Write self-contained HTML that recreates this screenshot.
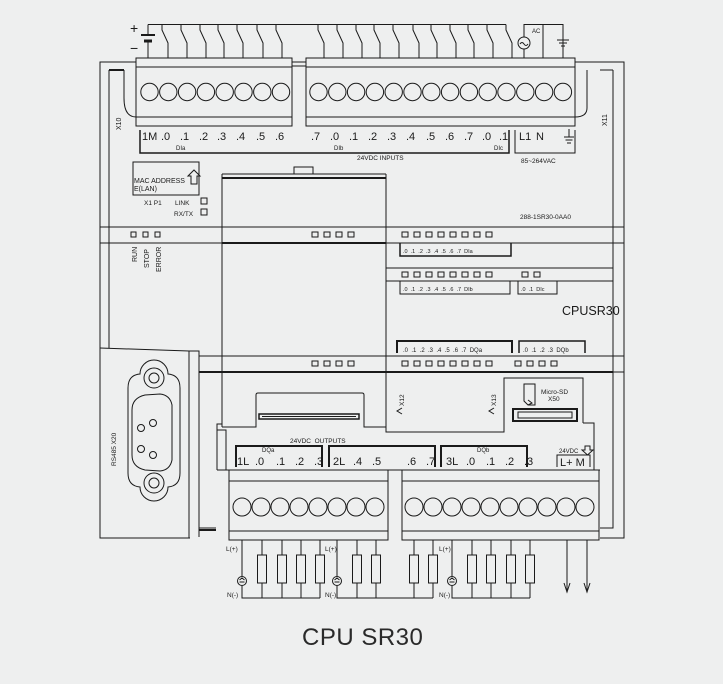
<!DOCTYPE html>
<html><head><meta charset="utf-8"><style>
html,body{margin:0;padding:0;background:#eeefef;}
svg{display:block}
text{font-family:"Liberation Sans",Arial,sans-serif;fill:#1a1a1a}
</style></head><body>
<svg width="723" height="684" viewBox="0 0 723 684" xmlns="http://www.w3.org/2000/svg">
<g fill="none" stroke="#1a1a1a" stroke-width="1">
<line x1="148" y1="24.5" x2="506" y2="24.5"/>
<line x1="148" y1="24.5" x2="148" y2="35"/>
<line x1="141" y1="35" x2="155" y2="35" stroke-width="2"/>
<line x1="144" y1="41" x2="152" y2="41" stroke-width="3"/>
<line x1="148" y1="41" x2="148" y2="58"/>
<path d="M162 24.5V30L168 43V58 M181 24.5V30L187 43V58 M200 24.5V30L206 43V58 M218 24.5V30L224 43V58 M237 24.5V30L243 43V58 M257 24.5V30L263 43V58 M276 24.5V30L282 43V58
M318 24.5V30L324 43V58 M337 24.5V30L343 43V58 M356 24.5V30L362 43V58 M374 24.5V30L380 43V58 M393 24.5V30L399 43V58 M413 24.5V30L419 43V58 M431 24.5V30L437 43V58 M450 24.5V30L456 43V58 M468 24.5V30L474 43V58 M487 24.5V30L493 43V58 M506 24.5V30L512 43V58"/>
<path d="M524 58V49 M524 37V24.5H543V58 M543 24.5H563V58"/>
<circle cx="524" cy="43" r="6"/>
<path d="M520 44q2-3 4 0t4 0"/>
<path d="M557 40H569 M559 43H567 M561 46H565"/>
<path d="M136 62H100V538H190"/>
<path d="M575 62H624V538H600"/>
<path d="M109 70V227 M109 243V348"/>
<path d="M109 70H124" stroke-width="2"/>
<path d="M613 70H600 M613 70V227 M613 243V356 M613 372V528H600" />
<path d="M100 227H109V243H100"/>
<path d="M624 227H613V243H624"/>
<path d="M624 356H613V372H624"/>
<path d="M124 70V98Q124 117 136 117" />
<path d="M587 70V108Q587 117 575 117"/>
<rect x="136" y="58" width="156" height="68"/>
<line x1="136" y1="67" x2="292" y2="67"/>
<line x1="136" y1="117" x2="292" y2="117"/>
<rect x="306" y="58" width="269" height="68"/>
<line x1="306" y1="67" x2="575" y2="67"/>
<line x1="306" y1="117" x2="575" y2="117"/>
<line x1="292" y1="62" x2="306" y2="62"/>
<line x1="292" y1="66" x2="306" y2="66"/>
<g>
<circle cx="149.5" cy="92" r="8.7"/><circle cx="168.3" cy="92" r="8.7"/><circle cx="187.1" cy="92" r="8.7"/><circle cx="205.9" cy="92" r="8.7"/><circle cx="224.7" cy="92" r="8.7"/><circle cx="243.5" cy="92" r="8.7"/><circle cx="262.3" cy="92" r="8.7"/><circle cx="281" cy="92" r="8.7"/>
<circle cx="318.5" cy="92" r="8.7"/><circle cx="337.3" cy="92" r="8.7"/><circle cx="356.1" cy="92" r="8.7"/><circle cx="374.9" cy="92" r="8.7"/><circle cx="393.7" cy="92" r="8.7"/><circle cx="412.5" cy="92" r="8.7"/><circle cx="431.3" cy="92" r="8.7"/><circle cx="450.1" cy="92" r="8.7"/><circle cx="468.9" cy="92" r="8.7"/><circle cx="487.7" cy="92" r="8.7"/><circle cx="506.5" cy="92" r="8.7"/><circle cx="525.3" cy="92" r="8.7"/><circle cx="544.1" cy="92" r="8.7"/><circle cx="562.9" cy="92" r="8.7"/>
</g>
<path d="M140 130V153H509V130" stroke-width="1.5"/>
<path d="M515 130V153H575V130"/>
<path d="M569 129V137 M564 137H574 M565.5 140H572.5 M567 143H571"/>
<rect x="133" y="162" width="66" height="33"/>
<path d="M188 176L194 170L200 176H197V184H191V176Z"/>
<rect x="201" y="198" width="6" height="6"/>
<rect x="201" y="209" width="6" height="6"/>
<rect x="294" y="167" width="19" height="7"/>
<path d="M222 174H386" />
<path d="M222 174V427 M386 174V427"/>
<line x1="222" y1="178" x2="386" y2="178" stroke-width="2"/>
<line x1="109" y1="227" x2="613" y2="227"/>
<line x1="109" y1="243" x2="613" y2="243"/>
<line x1="222" y1="243" x2="386" y2="243" stroke-width="2"/>
<line x1="386" y1="268" x2="613" y2="268"/>
<line x1="386" y1="281" x2="613" y2="281"/>
<path d="M400 243V256H511V243" stroke-width="1.5"/>
<path d="M400 281V294H510V281"/>
<path d="M518 281V294H557V281"/>
<path d="M397 353V341H512V353" stroke-width="2"/>
<path d="M519 353V341H585V353" stroke-width="1.5"/>
<line x1="199" y1="356" x2="613" y2="356"/>
<line x1="199" y1="372" x2="613" y2="372" stroke-width="2"/>
<path d="M100 348L189 351"/>
<path d="M189 351H199V537 M189 351V538"/>
<path d="M199 356V528H216"/>
<path d="M199 530H216" stroke-width="2"/>
<path d="M128 388 Q128 375 140 374 A14 14 0 0 1 168 374 Q180 375 180 388 V473 Q180 486 168 487 A14 14 0 0 1 140 487 Q128 486 128 473 Z"/>
<circle cx="154" cy="378" r="10"/><circle cx="154" cy="378" r="5"/>
<circle cx="154" cy="483" r="10"/><circle cx="154" cy="483" r="5"/>
<path d="M132 410 Q132 398 145 395 L160 394 Q170 395 172 405 V460 Q170 470 160 471 L145 470 Q132 467 132 455 Z"/>
<circle cx="141" cy="428" r="3.5"/><circle cx="153" cy="423" r="3.5"/>
<circle cx="141" cy="449" r="3.5"/><circle cx="153" cy="455" r="3.5"/>
<path d="M222 427H256V395Q256 393 258 393H362Q364 393 364 395V427H386"/>
<rect x="259" y="414" width="100" height="5" stroke-width="1.5"/>
<line x1="262" y1="416.5" x2="356" y2="416.5"/>
<path d="M402 408L397 411L402 414 M494 408L489 411L494 414"/>
<path d="M504 420V378H583V423"/>
<path d="M524 384H535V405H528L524 401Z"/>
<path d="M528 400L532 403L528 405" />
<rect x="513" y="409" width="64" height="12" stroke-width="2"/>
<rect x="518" y="412" width="54" height="6"/>
<path d="M217 470V424H222 M386 427V432H504V420 M583 423H594V470"/>
<path d="M217 424V430H226V470"/>
<line x1="217" y1="470" x2="600" y2="470"/>
<path d="M236 467V446H322V467" stroke-width="2"/>
<path d="M329 467V446H435V467" stroke-width="2"/>
<path d="M441 467V446H527V467" stroke-width="2"/>
<path d="M557 467V455H590V467"/>
<path d="M585 446H590V450H593L587.5 455L582 450H585Z"/>
<rect x="229" y="470" width="159" height="70"/>
<line x1="229" y1="481" x2="388" y2="481"/>
<line x1="229" y1="531" x2="388" y2="531"/>
<rect x="402" y="470" width="197" height="70"/>
<line x1="402" y1="481" x2="599" y2="481"/>
<line x1="402" y1="531" x2="599" y2="531"/>
<g>
<circle cx="242" cy="507" r="9"/><circle cx="261" cy="507" r="9"/><circle cx="280" cy="507" r="9"/><circle cx="299" cy="507" r="9"/><circle cx="318" cy="507" r="9"/><circle cx="337" cy="507" r="9"/><circle cx="356" cy="507" r="9"/><circle cx="375" cy="507" r="9"/>
<circle cx="414" cy="507" r="9"/><circle cx="433" cy="507" r="9"/><circle cx="452" cy="507" r="9"/><circle cx="471" cy="507" r="9"/><circle cx="490" cy="507" r="9"/><circle cx="509" cy="507" r="9"/><circle cx="528" cy="507" r="9"/><circle cx="547" cy="507" r="9"/><circle cx="566" cy="507" r="9"/><circle cx="585" cy="507" r="9"/>
</g>
<path d="M242 540V576 M242 586V598H320 M337 540V576 M337 586V598H433 M452 540V576 M452 586V598H530"/>
<circle cx="242" cy="581" r="4.5"/><circle cx="337" cy="581" r="4.5"/><circle cx="452" cy="581" r="4.5"/>
<path d="M239.5 582h5 M239.5 580l2.5-2 2.5 2 M334.5 582h5 M334.5 580l2.5-2 2.5 2 M449.5 582h5 M449.5 580l2.5-2 2.5 2"/>
<path d="M262 540V598 M282 540V598 M301 540V598 M320 540V598 M357 540V598 M376 540V598 M414 540V598 M433 540V598 M472 540V598 M491 540V598 M511 540V598 M530 540V598"/>
<g fill="#eeefef">
<rect x="257.5" y="555" width="9" height="28"/><rect x="277.5" y="555" width="9" height="28"/><rect x="296.5" y="555" width="9" height="28"/><rect x="315.5" y="555" width="9" height="28"/>
<rect x="352.5" y="555" width="9" height="28"/><rect x="371.5" y="555" width="9" height="28"/><rect x="409.5" y="555" width="9" height="28"/><rect x="428.5" y="555" width="9" height="28"/>
<rect x="467.5" y="555" width="9" height="28"/><rect x="486.5" y="555" width="9" height="28"/><rect x="506.5" y="555" width="9" height="28"/><rect x="525.5" y="555" width="9" height="28"/>
</g>
<path d="M567 540V590 M587 540V590"/>
<path d="M564 583L567 592L570 583 M584 583L587 592L590 583"/>
<g>
<rect x="131" y="232" width="5" height="5"/><rect x="143" y="232" width="5" height="5"/><rect x="155" y="232" width="5" height="5"/>
<rect x="312" y="232" width="6" height="5"/><rect x="324" y="232" width="6" height="5"/><rect x="336" y="232" width="6" height="5"/><rect x="348" y="232" width="6" height="5"/>
<rect x="402" y="232" width="6" height="5"/><rect x="414" y="232" width="6" height="5"/><rect x="426" y="232" width="6" height="5"/><rect x="438" y="232" width="6" height="5"/><rect x="450" y="232" width="6" height="5"/><rect x="462" y="232" width="6" height="5"/><rect x="474" y="232" width="6" height="5"/><rect x="486" y="232" width="6" height="5"/>
<rect x="402" y="272" width="6" height="5"/><rect x="414" y="272" width="6" height="5"/><rect x="426" y="272" width="6" height="5"/><rect x="438" y="272" width="6" height="5"/><rect x="450" y="272" width="6" height="5"/><rect x="462" y="272" width="6" height="5"/><rect x="474" y="272" width="6" height="5"/><rect x="486" y="272" width="6" height="5"/>
<rect x="522" y="272" width="6" height="5"/><rect x="534" y="272" width="6" height="5"/>
<rect x="312" y="361" width="6" height="5"/><rect x="324" y="361" width="6" height="5"/><rect x="336" y="361" width="6" height="5"/><rect x="348" y="361" width="6" height="5"/>
<rect x="402" y="361" width="6" height="5"/><rect x="414" y="361" width="6" height="5"/><rect x="426" y="361" width="6" height="5"/><rect x="438" y="361" width="6" height="5"/><rect x="450" y="361" width="6" height="5"/><rect x="462" y="361" width="6" height="5"/><rect x="474" y="361" width="6" height="5"/><rect x="486" y="361" width="6" height="5"/>
<rect x="515" y="361" width="6" height="5"/><rect x="527" y="361" width="6" height="5"/><rect x="539" y="361" width="6" height="5"/><rect x="551" y="361" width="6" height="5"/>
</g>
</g>
<text x="130" y="33" font-size="14">+</text>
<text x="130" y="53" font-size="14">−</text>
<text x="532" y="33" font-size="6">AC</text>
<g font-size="11">
<text x="142" y="140">1M</text><text x="161" y="140">.0</text><text x="180" y="140">.1</text><text x="199" y="140">.2</text><text x="217" y="140">.3</text><text x="236" y="140">.4</text><text x="256" y="140">.5</text><text x="275" y="140">.6</text>
<text x="311" y="140">.7</text><text x="330" y="140">.0</text><text x="349" y="140">.1</text><text x="368" y="140">.2</text><text x="387" y="140">.3</text><text x="406" y="140">.4</text><text x="426" y="140">.5</text><text x="445" y="140">.6</text><text x="464" y="140">.7</text><text x="482" y="140">.0</text><text x="499" y="140">.1</text>
<text x="519" y="140">L1</text><text x="536" y="140">N</text>
</g>
<text x="176" y="150" font-size="6">DIa</text>
<text x="334" y="150" font-size="6">DIb</text>
<text x="494" y="150" font-size="6">DIc</text>
<text x="357" y="160" font-size="6.5">24VDC INPUTS</text>
<text x="521" y="163" font-size="6.5">85~264VAC</text>
<text transform="translate(121,130) rotate(-90)" font-size="7">X10</text>
<text transform="translate(607,126) rotate(-90)" font-size="7">X11</text>
<text x="134" y="183" font-size="7">MAC ADDRESS</text>
<text x="134" y="191" font-size="7">E(LAN)</text>
<text x="144" y="205" font-size="6.5">X1  P1</text>
<text x="175" y="205" font-size="6.5">LINK</text>
<text x="174" y="216" font-size="6.5">RX/TX</text>
<text x="520" y="219" font-size="6.5">288-1SR30-0AA0</text>
<text transform="translate(137,262) rotate(-90)" font-size="7">RUN</text>
<text transform="translate(149,268) rotate(-90)" font-size="7">STOP</text>
<text transform="translate(161,272) rotate(-90)" font-size="7">ERROR</text>
<text x="403" y="253" font-size="5.5" xml:space="preserve">.0  .1  .2  .3  .4  .5  .6  .7  DIa</text>
<text x="403" y="291" font-size="5.5" xml:space="preserve">.0  .1  .2  .3  .4  .5  .6  .7  DIb</text>
<text x="521" y="291" font-size="5.5" xml:space="preserve">.0  .1  DIc</text>
<text x="403" y="352" font-size="6" xml:space="preserve">.0  .1  .2  .3  .4  .5  .6  .7  DQa</text>
<text x="523" y="352" font-size="6" xml:space="preserve">.0  .1  .2  .3  DQb</text>
<text x="562" y="315" font-size="12.5">CPUSR30</text>
<text transform="translate(116,466) rotate(-90)" font-size="6.5">RS485 X20</text>
<text transform="translate(404,406) rotate(-90)" font-size="6.5">X12</text>
<text transform="translate(496,406) rotate(-90)" font-size="6.5">X13</text>
<text x="541" y="394" font-size="6.5">Micro-SD</text>
<text x="548" y="401" font-size="6.5">X50</text>
<text x="290" y="443" font-size="6.5" xml:space="preserve">24VDC  OUTPUTS</text>
<text x="262" y="452" font-size="6">DQa</text>
<text x="477" y="452" font-size="6">DQb</text>
<text x="559" y="453" font-size="6">24VDC</text>
<g font-size="11">
<text x="237" y="465">1L</text><text x="255" y="465">.0</text><text x="276" y="465">.1</text><text x="295" y="465">.2</text><text x="314" y="465">.3</text>
<text x="333" y="465">2L</text><text x="353" y="465">.4</text><text x="372" y="465">.5</text><text x="407" y="465">.6</text><text x="426" y="465">.7</text>
<text x="446" y="465">3L</text><text x="466" y="465">.0</text><text x="486" y="465">.1</text><text x="505" y="465">.2</text><text x="524" y="465">.3</text>
<text x="560" y="466">L+ M</text>
</g>
<text x="226" y="551" font-size="6.5">L(+)</text>
<text x="325" y="551" font-size="6.5">L(+)</text>
<text x="439" y="551" font-size="6.5">L(+)</text>
<text x="227" y="597" font-size="6.5">N(-)</text>
<text x="325" y="597" font-size="6.5">N(-)</text>
<text x="439" y="597" font-size="6.5">N(-)</text>
<text x="302" y="645" font-size="24" letter-spacing="0.5" style="fill:#2a2a2a">CPU SR30</text>
</svg>
</body></html>
